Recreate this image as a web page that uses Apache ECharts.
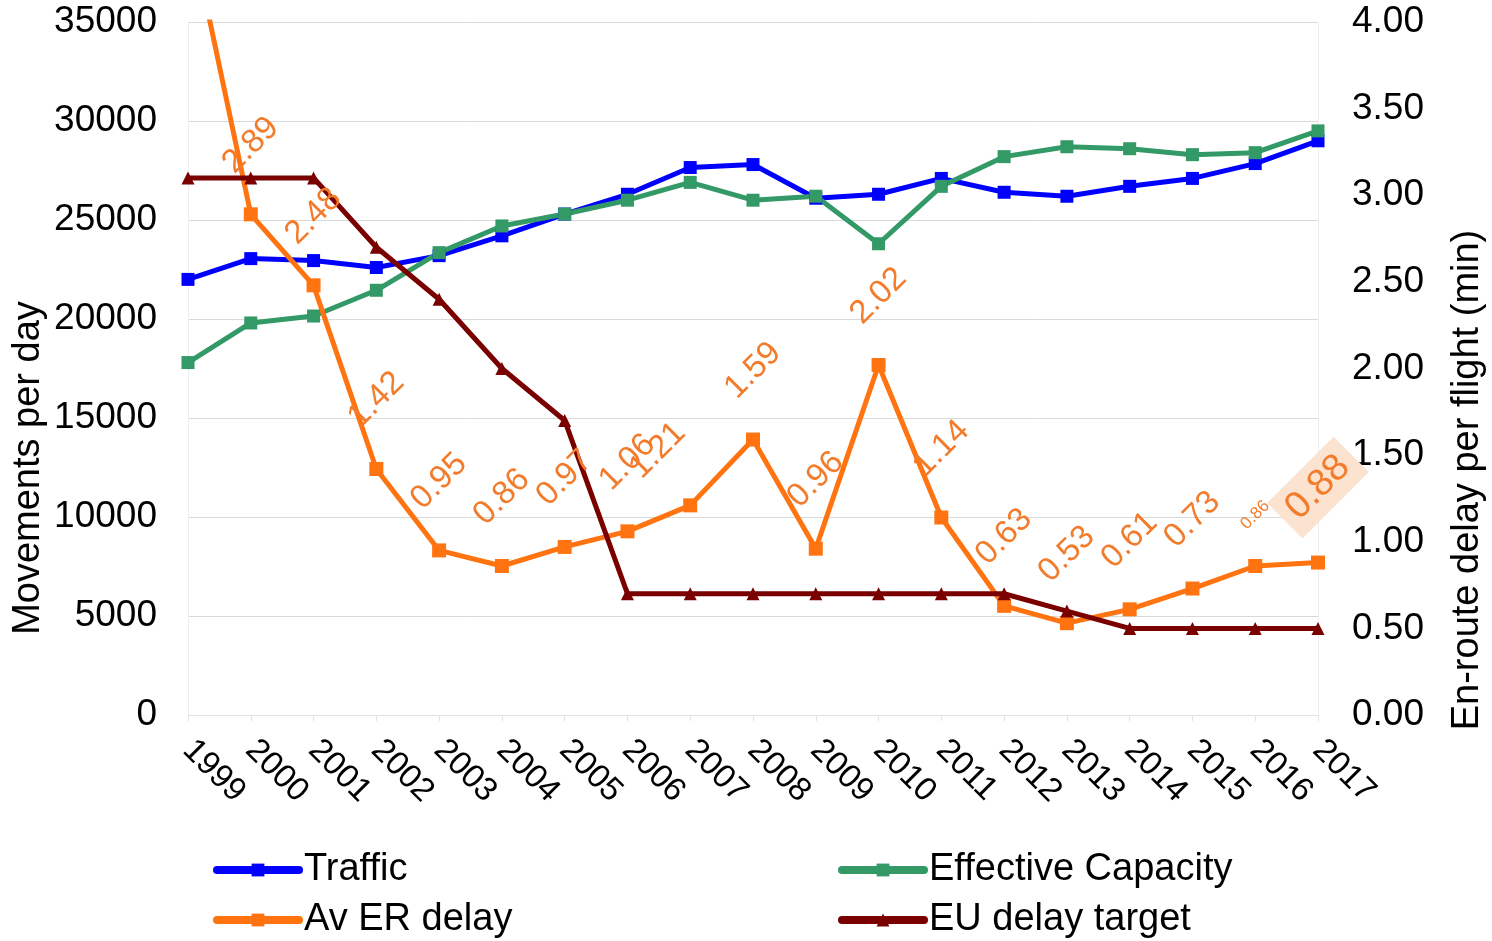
<!DOCTYPE html>
<html><head><meta charset="utf-8">
<script src="https://cdn.jsdelivr.net/npm/echarts@6/dist/echarts.min.js"></script>
<style>html,body{margin:0;padding:0;background:#fff}#c{width:1492px;height:941px}</style>
</head><body><div id="c"></div>
<script>
const years = ['1999','2000','2001','2002','2003','2004','2005','2006','2007','2008','2009','2010','2011','2012','2013','2014','2015','2016','2017'];
const traffic = [22000, 23050, 22950, 22600, 23200, 24200, 25300, 26300, 27650, 27800, 26100, 26300, 27100, 26400, 26200, 26700, 27100, 27850, 29000];
const capacity = [17800, 19800, 20150, 21450, 23350, 24700, 25300, 26000, 26900, 26000, 26200, 23800, 26700, 28200, 28700, 28600, 28300, 28400, 29500];
const erDelay = [4.6, 2.89, 2.48, 1.42, 0.95, 0.86, 0.97, 1.06, 1.21, 1.59, 0.96, 2.02, 1.14, 0.63, 0.53, 0.61, 0.73, 0.86, 0.88];
const euTarget = [3.1, 3.1, 3.1, 2.7, 2.4, 2.0, 1.7, 0.7, 0.7, 0.7, 0.7, 0.7, 0.7, 0.7, 0.6, 0.5, 0.5, 0.5, 0.5];
const leftAxis = {min: 0, max: 35000, interval: 5000};
const rightAxis = {min: 0, max: 4, interval: 0.5};
const legendRows = [['Traffic', 'Effective Capacity'], ['Av ER delay', 'EU delay target']];

const FONT = 'Liberation Sans';
const labelColor = '#f27c2c';
const erData = erDelay.map((v, i) => {
  const item = {value: v};
  if (i === 0) item.label = {show: false};
  if (years[i] === '2007') item.label = {offset: [-33, -13]};
  if (i === years.length - 2) item.label = {fontSize: 17, distance: 44};
  if (i === years.length - 1) item.label = {fontSize: 38, distance: 68, backgroundColor: '#fbe3cf', padding: [6, 10]};
  return item;
});

const legends = [];
legendRows.forEach((row, r) => row.forEach((name, c) => {
  legends.push({
    orient: 'horizontal', left: c === 0 ? 213 : 838, top: 851 + r * 50, padding: 0,
    itemWidth: 82, itemHeight: 16, itemGap: 0,
    lineStyle: {width: 8, cap: 'round'},
    textStyle: {fontSize: 38, color: '#000', fontFamily: FONT},
    data: [name]
  });
}));

const chart = echarts.init(document.getElementById('c'));
chart.setOption({
  animation: false,
  textStyle: {fontFamily: FONT},
  grid: {left: 188, right: 174, top: 22, bottom: 226, containLabel: false},
  xAxis: {
    type: 'category', data: years, boundaryGap: false,
    axisLine: {lineStyle: {color: '#e3e3e3', width: 1}},
    axisTick: {show: true, length: 6, lineStyle: {color: '#e3e3e3'}},
    axisLabel: {rotate: -45, margin: 30, fontSize: 33, color: '#000', fontFamily: FONT}
  },
  yAxis: [{
    type: 'value', min: leftAxis.min, max: leftAxis.max, interval: leftAxis.interval,
    axisLine: {show: true, lineStyle: {color: '#eeeeee'}},
    axisTick: {show: false},
    splitLine: {lineStyle: {color: '#d9d9d9', width: 1}},
    axisLabel: {margin: 31, fontSize: 37, color: '#000', fontFamily: FONT, formatter: v => String(v)}
  }, {
    type: 'value', min: rightAxis.min, max: rightAxis.max, interval: rightAxis.interval,
    axisLine: {show: true, lineStyle: {color: '#eeeeee'}},
    axisTick: {show: false},
    splitLine: {show: false},
    axisLabel: {margin: 34, fontSize: 37, color: '#000', fontFamily: FONT, formatter: v => v.toFixed(2)}
  }],
  legend: legends,
  graphic: [{
    type: 'text', x: 29, y: 468, rotation: Math.PI / 2,
    style: {text: 'Movements per day', fontSize: 38, fontFamily: FONT, fill: '#000', align: 'center', verticalAlign: 'middle', textAlign: 'center', textVerticalAlign: 'middle'}
  }, {
    type: 'text', x: 1468, y: 480, rotation: Math.PI / 2,
    style: {text: 'En-route delay per flight (min)', fontSize: 38, fontFamily: FONT, fill: '#000', align: 'center', verticalAlign: 'middle', textAlign: 'center', textVerticalAlign: 'middle'}
  }],
  series: [{
    name: 'Traffic', type: 'line', yAxisIndex: 0, data: traffic,
    symbol: 'rect', symbolSize: 13, showAllSymbol: true,
    lineStyle: {color: '#0000ff', width: 5}, itemStyle: {color: '#0000ff'}
  }, {
    name: 'Effective Capacity', type: 'line', yAxisIndex: 0, data: capacity,
    symbol: 'rect', symbolSize: 13, showAllSymbol: true,
    lineStyle: {color: '#339966', width: 5}, itemStyle: {color: '#339966'}
  }, {
    name: 'Av ER delay', type: 'line', yAxisIndex: 1, data: erData, clip: true,
    symbol: 'rect', symbolSize: 14, showAllSymbol: true,
    lineStyle: {color: '#ff7410', width: 5}, itemStyle: {color: '#ff7410'},
    label: {show: true, position: 'top', distance: 62, rotate: 45, align: 'center', verticalAlign: 'middle',
      fontSize: 33, color: labelColor, fontFamily: FONT, formatter: p => Number(p.value).toFixed(2)}
  }, {
    name: 'EU delay target', type: 'line', yAxisIndex: 1, data: euTarget,
    symbol: 'triangle', symbolSize: 13, showAllSymbol: true,
    lineStyle: {color: '#7a0000', width: 5}, itemStyle: {color: '#7a0000'}
  }]
});
</script></body></html>
